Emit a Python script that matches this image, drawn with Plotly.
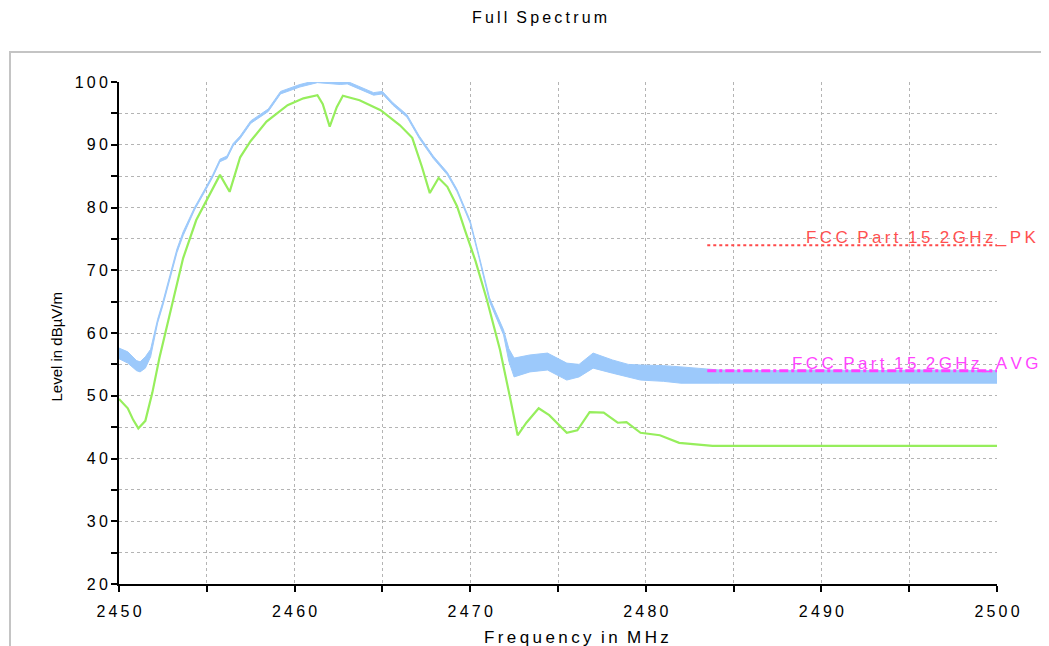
import plotly.graph_objects as go

TS = "\u2009"  # thin space used for the wide letter spacing of the original
WS = "\u00a0\u00a0"  # word gap

def spaced(s):
    return WS.join(TS.join(list(w)) for w in s.split(" "))

# ---------------- data ----------------
peak_freq = [2450.0, 2450.5, 2451.0, 2451.2, 2451.5, 2451.8, 2452.2, 2452.5, 2452.9,
             2453.3, 2453.65, 2454.3, 2455.0, 2455.35, 2455.75, 2456.15, 2456.5, 2456.9,
             2457.5, 2458.5, 2459.2, 2460.3, 2461.3, 2462.0, 2462.6, 2463.0, 2463.7,
             2464.5, 2465.0, 2465.6, 2466.4, 2467.1, 2467.9, 2468.7, 2469.25, 2470.0,
             2470.5, 2471.1, 2471.9, 2472.2, 2472.5, 2473.0, 2473.4, 2474.4, 2475.5,
             2476.2, 2477.0, 2478.1, 2479.0, 2479.7, 2481.0, 2482.0, 2484.2, 2487.0,
             2490.0, 2493.0, 2496.0, 2500.0]
peak_lower = [55.9, 55.2, 54.0, 53.8, 54.4, 56.2, 61.6, 64.4, 68.6,
              72.8, 75.5, 79.6, 83.1, 84.9, 87.3, 87.8, 89.8, 91.0,
              93.4, 95.3, 98.1, 99.2, 99.9, 99.7, 99.6, 99.7, 98.9,
              97.9, 98.1, 96.3, 94.4, 91.0, 87.8, 85.2, 82.5, 77.5,
              72.0, 65.0, 59.7, 55.5, 53.0, 53.4, 53.8, 54.1, 52.5,
              53.0, 54.4, 53.6, 53.0, 52.5, 52.3, 52.0, 52.0, 52.0,
              52.0, 51.9, 52.0, 52.0]
peak_upper = [57.6, 57.0, 55.6, 55.4, 56.2, 57.4, 62.2, 65.0, 69.2,
              73.4, 76.1, 80.0, 83.5, 85.3, 87.7, 88.2, 90.2, 91.4,
              93.8, 95.7, 98.5, 99.6, 100.3, 100.1, 100.0, 100.1, 99.3,
              98.3, 98.5, 96.7, 94.8, 91.4, 88.2, 85.6, 82.9, 77.9,
              72.4, 65.6, 60.5, 57.5, 56.0, 56.3, 56.5, 56.8, 55.2,
              55.0, 56.8, 55.7, 55.0, 54.9, 54.8, 54.6, 54.1, 54.0,
              54.1, 54.0, 54.1, 54.0]

avg_freq = [2450.0, 2450.5, 2450.8, 2451.1, 2451.5, 2451.9, 2452.3, 2452.8, 2453.2,
            2453.65, 2454.4, 2455.0, 2455.75, 2456.3, 2456.9, 2457.5, 2458.4, 2459.6,
            2460.5, 2461.3, 2461.6, 2462.0, 2462.4, 2462.75, 2463.7, 2464.9, 2466.0,
            2466.7, 2467.25, 2467.7, 2468.2, 2468.7, 2469.25, 2469.7, 2470.3, 2470.95,
            2471.7, 2472.3, 2472.7, 2473.2, 2473.9, 2474.5, 2475.5, 2476.1, 2476.8,
            2477.6, 2478.4, 2478.9, 2479.7, 2480.8, 2481.9, 2483.8, 2487.0, 2490.0,
            2494.0, 2500.0]
avg_level = [49.5, 48.0, 46.2, 44.8, 46.0, 50.5, 56.0, 62.0, 67.0,
             71.9, 78.0, 81.2, 85.2, 82.5, 88.0, 90.6, 93.7, 96.3,
             97.4, 97.9, 96.5, 92.9, 96.0, 97.8, 97.1, 95.5, 93.1,
             91.1, 86.5, 82.3, 84.7, 83.3, 80.2, 76.4, 71.5, 65.3,
             57.3, 49.3, 43.7, 45.7, 48.0, 46.9, 44.1, 44.5, 47.4,
             47.3, 45.7, 45.8, 44.1, 43.7, 42.5, 42.0, 42.0, 42.1,
             42.0, 42.0]

limit_freq = [2483.5, 2500.0]
limit_pk = [74.0, 74.0]
limit_avg = [54.0, 54.0]
limit_pk_name = "FCC Part 15 2GHz_PK"
limit_avg_name = "FCC Part 15 2GHz_AVG"

x_ticks = [2450, 2460, 2470, 2480, 2490, 2500]
y_ticks = [20, 30, 40, 50, 60, 70, 80, 90, 100]
x_range = [2450, 2500]
y_range = [20, 100]

# ---------------- figure ----------------
BLUE = "#9cc9fb"
GREEN = "#96ee5c"
fig = go.Figure()
fig.add_trace(go.Scatter(x=peak_freq, y=peak_lower, mode="lines",
                         line=dict(color=BLUE, width=1), hoverinfo="skip", showlegend=False))
fig.add_trace(go.Scatter(x=peak_freq, y=peak_upper, mode="lines", fill="tonexty",
                         fillcolor=BLUE, line=dict(color=BLUE, width=1), showlegend=False))
fig.add_trace(go.Scatter(x=avg_freq, y=avg_level, mode="lines",
                         line=dict(color=GREEN, width=2.2), showlegend=False))
fig.add_trace(go.Scatter(x=limit_freq, y=limit_pk, mode="lines",
                         line=dict(color="#ff4a4a", width=2, dash="dot"), showlegend=False))
fig.add_trace(go.Scatter(x=limit_freq, y=limit_avg, mode="lines",
                         line=dict(color="#ff40ff", width=3, dash="dashdot"), showlegend=False))

tickfont = dict(family="Liberation Sans, Arial, sans-serif", size=16, color="black")
grid = dict(showgrid=True, gridcolor="#b4b4b4", gridwidth=1, griddash="dot")

# the page body adds an 8 px offset, so the margins are shifted accordingly
fig.update_layout(
    width=1049, height=646,
    margin=dict(l=111, r=60, t=74, b=70),
    paper_bgcolor="white", plot_bgcolor="white",
    font=dict(family="Liberation Sans, Arial, sans-serif", color="black"),
    showlegend=False,
    xaxis=dict(range=x_range, tickmode="array", tickvals=x_ticks,
               ticktext=[spaced(str(v)) for v in x_ticks], tickfont=tickfont,
               ticks="outside", ticklen=6, tickwidth=2, tickcolor="black",
               ticklabelstandoff=6,
               showline=True, linecolor="black", linewidth=2, zeroline=False,
               minor=dict(tickmode="linear", tick0=2450, dtick=5, ticks="outside",
                          ticklen=6, tickwidth=2, tickcolor="black", **grid),
               **grid),
    yaxis=dict(range=y_range, tickmode="array", tickvals=y_ticks,
               ticktext=[spaced(str(v)) for v in y_ticks], tickfont=tickfont,
               ticks="outside", ticklen=6, tickwidth=2, tickcolor="black",
               showline=True, linecolor="black", linewidth=2, zeroline=False,
               minor=dict(tickmode="linear", tick0=20, dtick=5, ticks="outside",
                          ticklen=6, tickwidth=2, tickcolor="black", **grid),
               **grid),
    xaxis2=dict(range=x_range, overlaying="x", anchor="y", side="bottom",
                tickmode="linear", tick0=2450, dtick=5, ticks="inside", ticklen=5,
                tickwidth=2, tickcolor="black", showticklabels=False,
                showgrid=False, zeroline=False, showline=False),
    yaxis2=dict(range=y_range, overlaying="y", anchor="x", side="left",
                tickmode="linear", tick0=20, dtick=5, ticks="inside", ticklen=5,
                tickwidth=2, tickcolor="black", showticklabels=False,
                showgrid=False, zeroline=False, showline=False),
)

# outer frame
fig.add_shape(type="rect", xref="paper", yref="paper",
              x0=(10 - 119) / 878, x1=(1042 - 119) / 878,
              y0=(584 - 700) / 502, y1=(584 - 52) / 502,
              line=dict(color="#c4c4c4", width=2), layer="below")

# titles
fig.add_annotation(xref="paper", yref="paper", x=(539 - 119) / 878, y=(584 - 18) / 502,
                   text=spaced("Full Spectrum"), showarrow=False,
                   xanchor="center", yanchor="middle", font=dict(size=16))
fig.add_annotation(xref="paper", yref="paper", x=(576 - 119) / 878, y=(584 - 637) / 502,
                   text=spaced("Frequency in MHz"),
                   showarrow=False, xanchor="center", yanchor="middle", font=dict(size=17))
fig.add_annotation(xref="paper", yref="paper", x=(55.5 - 119) / 878, y=(584 - 347) / 502,
                   text="Level in dB\u00b5V/m", textangle=-90, showarrow=False,
                   xanchor="center", yanchor="middle", font=dict(size=15))

# limit labels
fig.add_annotation(x=2489.0, y=limit_pk[0], xanchor="left", yanchor="bottom", yshift=-4,
                   text=spaced(limit_pk_name),
                   showarrow=False, font=dict(size=17, color="#ff5050"))
fig.add_annotation(x=2488.2, y=limit_avg[0], xanchor="left", yanchor="bottom", yshift=-4,
                   text=spaced(limit_avg_name),
                   showarrow=False, font=dict(size=17, color="#ff44ff"))

fig.write_html("out.html")
